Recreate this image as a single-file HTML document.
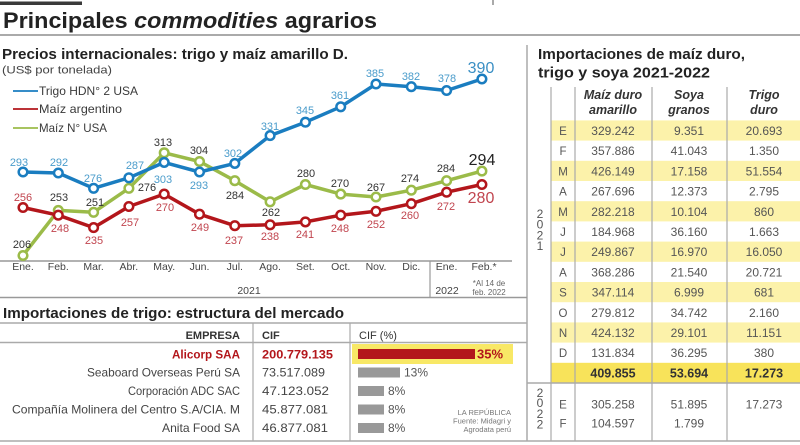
<!DOCTYPE html>
<html><head><meta charset="utf-8"><style>
html,body{margin:0;padding:0;background:#fff;}
svg{display:block;}
</style></head><body>
<svg width="800" height="445" viewBox="0 0 800 445" xmlns="http://www.w3.org/2000/svg" font-family="'Liberation Sans', Arial, sans-serif">
<rect width="800" height="445" fill="#fff"/>
<!-- top decorations -->
<rect x="0" y="1.5" width="82" height="3.5" fill="#3a3a3a"/>
<line x1="493" y1="0" x2="493" y2="5" stroke="#555" stroke-width="1"/>
<text x="3" y="28" font-size="22" font-weight="bold" fill="#222" textLength="374" lengthAdjust="spacingAndGlyphs">Principales <tspan font-style="italic">commodities</tspan> agrarios</text>
<line x1="0" y1="35" x2="800" y2="35" stroke="#aaa" stroke-width="2"/>
<line x1="527" y1="45" x2="527" y2="441" stroke="#aaa" stroke-width="1.5"/>

<!-- chart section -->
<text x="2" y="59" font-size="15" font-weight="bold" fill="#222" textLength="346" lengthAdjust="spacingAndGlyphs">Precios internacionales: trigo y maíz amarillo D.</text>
<text x="2" y="73.5" font-size="11" fill="#444" textLength="110" lengthAdjust="spacingAndGlyphs">(US$ por tonelada)</text>
<line x1="13" y1="91" x2="38" y2="91" stroke="#1a7dc0" stroke-width="1.8"/>
<line x1="13" y1="109" x2="38" y2="109" stroke="#b3161b" stroke-width="1.8"/>
<line x1="13" y1="128" x2="38" y2="128" stroke="#9bbb49" stroke-width="1.8"/>
<text x="39" y="95" font-size="12" fill="#3a3a3a" textLength="99" lengthAdjust="spacingAndGlyphs">Trigo HDN° 2 USA</text>
<text x="39" y="113" font-size="12" fill="#3a3a3a" textLength="83" lengthAdjust="spacingAndGlyphs">Maíz argentino</text>
<text x="39" y="132" font-size="12" fill="#3a3a3a" textLength="68" lengthAdjust="spacingAndGlyphs">Maíz N° USA</text>

<!-- axis -->
<line x1="0" y1="261" x2="512" y2="261" stroke="#999" stroke-width="1.5"/>
<line x1="0" y1="297.5" x2="527" y2="297.5" stroke="#999" stroke-width="1.5"/>
<line x1="430" y1="261" x2="430" y2="297.5" stroke="#999" stroke-width="1.2"/>
<g font-size="10.5" fill="#444" text-anchor="middle">
<text x="23" y="270">Ene.</text><text x="58.3" y="270">Feb.</text><text x="93.6" y="270">Mar.</text><text x="128.9" y="270">Abr.</text><text x="164.2" y="270">May.</text><text x="199.5" y="270">Jun.</text><text x="234.8" y="270">Jul.</text><text x="270.1" y="270">Ago.</text><text x="305.4" y="270">Set.</text><text x="340.7" y="270">Oct.</text><text x="376" y="270">Nov.</text><text x="411.3" y="270">Dic.</text><text x="446.6" y="270">Ene.</text><text x="484" y="270">Feb.*</text>
<text x="249" y="294">2021</text><text x="447" y="294">2022</text>
</g>
<g font-size="8" fill="#666" text-anchor="middle">
<text x="489" y="286">*Al 14 de</text><text x="489" y="295">feb. 2022</text>
</g>

<!-- series lines -->
<g fill="none" stroke-width="3.5" stroke-linejoin="round" stroke-linecap="round">
<polyline stroke="#9bbb49" points="23,255.5 58.3,210.4 93.6,212.3 128.9,188.3 164.2,152.8 199.5,161.5 234.8,180.7 270.1,201.8 305.4,184.5 340.7,194.1 376,197 411.3,190.2 446.6,180.7 481.9,171.1"/>
<polyline stroke="#b3161b" points="23,207.5 58.3,215.2 93.6,227.6 128.9,206.5 164.2,194.1 199.5,214.2 234.8,225.7 270.1,224.8 305.4,221.9 340.7,215.2 376,211.3 411.3,203.7 446.6,192.2 481.9,184.5"/>
<polyline stroke="#1a7dc0" points="23,172 58.3,173 93.6,188.3 128.9,177.8 164.2,162.4 199.5,172 234.8,163.4 270.1,135.6 305.4,122.2 340.7,106.8 376,84 411.3,86.7 446.6,90.5 481.9,79"/>
</g>
<g fill="#fff" stroke-width="2.5">
<g stroke="#9bbb49">
<circle cx="23" cy="255.5" r="4.3"/><circle cx="58.3" cy="210.4" r="4.3"/><circle cx="93.6" cy="212.3" r="4.3"/><circle cx="128.9" cy="188.3" r="4.3"/><circle cx="164.2" cy="152.8" r="4.3"/><circle cx="199.5" cy="161.5" r="4.3"/><circle cx="234.8" cy="180.7" r="4.3"/><circle cx="270.1" cy="201.8" r="4.3"/><circle cx="305.4" cy="184.5" r="4.3"/><circle cx="340.7" cy="194.1" r="4.3"/><circle cx="376" cy="197" r="4.3"/><circle cx="411.3" cy="190.2" r="4.3"/><circle cx="446.6" cy="180.7" r="4.3"/><circle cx="481.9" cy="171.1" r="4.3"/>
</g>
<g stroke="#b3161b">
<circle cx="23" cy="207.5" r="4.3"/><circle cx="58.3" cy="215.2" r="4.3"/><circle cx="93.6" cy="227.6" r="4.3"/><circle cx="128.9" cy="206.5" r="4.3"/><circle cx="164.2" cy="194.1" r="4.3"/><circle cx="199.5" cy="214.2" r="4.3"/><circle cx="234.8" cy="225.7" r="4.3"/><circle cx="270.1" cy="224.8" r="4.3"/><circle cx="305.4" cy="221.9" r="4.3"/><circle cx="340.7" cy="215.2" r="4.3"/><circle cx="376" cy="211.3" r="4.3"/><circle cx="411.3" cy="203.7" r="4.3"/><circle cx="446.6" cy="192.2" r="4.3"/><circle cx="481.9" cy="184.5" r="4.3"/>
</g>
<g stroke="#1a7dc0">
<circle cx="23" cy="172" r="4.3"/><circle cx="58.3" cy="173" r="4.3"/><circle cx="93.6" cy="188.3" r="4.3"/><circle cx="128.9" cy="177.8" r="4.3"/><circle cx="164.2" cy="162.4" r="4.3"/><circle cx="199.5" cy="172" r="4.3"/><circle cx="234.8" cy="163.4" r="4.3"/><circle cx="270.1" cy="135.6" r="4.3"/><circle cx="305.4" cy="122.2" r="4.3"/><circle cx="340.7" cy="106.8" r="4.3"/><circle cx="376" cy="84" r="4.3"/><circle cx="411.3" cy="86.7" r="4.3"/><circle cx="446.6" cy="90.5" r="4.3"/><circle cx="481.9" cy="79" r="4.3"/>
</g>
</g>

<!-- labels -->
<g font-size="11" text-anchor="middle" fill="#4a9ccb">
<text x="19" y="166">293</text><text x="59" y="166">292</text><text x="93" y="182">276</text><text x="135" y="169">287</text><text x="163" y="183">303</text><text x="199" y="189">293</text><text x="233" y="157">302</text><text x="270" y="130">331</text><text x="305" y="114">345</text><text x="340" y="99">361</text><text x="375" y="77">385</text><text x="411" y="80">382</text><text x="447" y="82">378</text>
<text x="481" y="73" font-size="16" fill="#3a8fc4">390</text>
</g>
<g font-size="11" text-anchor="middle" fill="#c1454f">
<text x="23" y="201">256</text><text x="60" y="232">248</text><text x="94" y="244">235</text><text x="130" y="226">257</text><text x="165" y="211">270</text><text x="200" y="231">249</text><text x="234" y="244">237</text><text x="270" y="240">238</text><text x="305" y="238">241</text><text x="340" y="232">248</text><text x="376" y="228">252</text><text x="410" y="219">260</text><text x="446" y="210">272</text>
<text x="481" y="203" font-size="16">280</text>
</g>
<g font-size="11" text-anchor="middle" fill="#333">
<text x="22" y="248">206</text><text x="59" y="201">253</text><text x="95" y="206">251</text><text x="147" y="191">276</text><text x="163" y="146">313</text><text x="199" y="154">304</text><text x="235" y="199">284</text><text x="271" y="216">262</text><text x="306" y="177">280</text><text x="340" y="187">270</text><text x="376" y="191">267</text><text x="410" y="182">274</text><text x="446" y="172">284</text>
<text x="482" y="165" font-size="16" fill="#222">294</text>
</g>

<!-- bottom table -->
<text x="3" y="318" font-size="15" font-weight="bold" fill="#222" textLength="341" lengthAdjust="spacingAndGlyphs">Importaciones de trigo: estructura del mercado</text>
<line x1="0" y1="323" x2="527" y2="323" stroke="#aaa" stroke-width="1.5"/>
<line x1="0" y1="342.5" x2="527" y2="342.5" stroke="#aaa" stroke-width="1.5"/>
<line x1="253" y1="323" x2="253" y2="441" stroke="#aaa" stroke-width="1.2"/>
<line x1="350" y1="323" x2="350" y2="441" stroke="#aaa" stroke-width="1.2"/>
<text x="240" y="339" font-size="11" font-weight="bold" fill="#333" text-anchor="end">EMPRESA</text>
<text x="262" y="339" font-size="11" font-weight="bold" fill="#333">CIF</text>
<text x="359" y="339" font-size="11" fill="#333">CIF (%)</text>
<rect x="352" y="344" width="161" height="20" fill="#f8e866"/>
<rect x="358" y="349" width="117" height="10" fill="#b3161b"/>
<text x="477" y="358.5" font-size="13" font-weight="bold" fill="#b3161b">35%</text>
<rect x="358" y="367.5" width="42" height="10" fill="#999"/>
<rect x="358" y="386" width="26" height="10" fill="#999"/>
<rect x="358" y="404.5" width="26" height="10" fill="#999"/>
<rect x="358" y="423" width="26" height="10" fill="#999"/>
<g font-size="12" fill="#555">
<text x="404" y="376.5">13%</text><text x="388" y="395">8%</text><text x="388" y="413.5">8%</text><text x="388" y="432">8%</text>
</g>
<text x="240" y="358.5" font-size="12" font-weight="bold" fill="#b3161b" text-anchor="end" textLength="68" lengthAdjust="spacingAndGlyphs">Alicorp SAA</text>
<text x="262" y="358.5" font-size="12" font-weight="bold" fill="#b3161b" textLength="71" lengthAdjust="spacingAndGlyphs">200.779.135</text>
<g font-size="12" fill="#444">
<text x="240" y="376.5" text-anchor="end" textLength="153" lengthAdjust="spacingAndGlyphs">Seaboard Overseas Perú SA</text>
<text x="240" y="395" text-anchor="end" textLength="112" lengthAdjust="spacingAndGlyphs">Corporación ADC SAC</text>
<text x="240" y="413.5" text-anchor="end" textLength="228" lengthAdjust="spacingAndGlyphs">Compañía Molinera del Centro S.A/CIA. M</text>
<text x="240" y="432" text-anchor="end" textLength="78" lengthAdjust="spacingAndGlyphs">Anita Food SA</text>
<text x="262" y="376.5" textLength="63" lengthAdjust="spacingAndGlyphs">73.517.089</text>
<text x="262" y="395" textLength="67" lengthAdjust="spacingAndGlyphs">47.123.052</text>
<text x="262" y="413.5" textLength="66" lengthAdjust="spacingAndGlyphs">45.877.081</text>
<text x="262" y="432" textLength="66" lengthAdjust="spacingAndGlyphs">46.877.081</text>
</g>
<g font-size="7.5" fill="#777" text-anchor="end">
<text x="511" y="415">LA REPÚBLICA</text><text x="511" y="423.5">Fuente: Midagri y</text><text x="511" y="432">Agrodata perú</text>
</g>
<line x1="0" y1="441" x2="800" y2="441" stroke="#aaa" stroke-width="1.5"/>

<!-- right table -->
<text x="538" y="59" font-size="15" font-weight="bold" fill="#222" textLength="207" lengthAdjust="spacingAndGlyphs">Importaciones de maíz duro,</text>
<text x="538" y="77.5" font-size="15" font-weight="bold" fill="#222" textLength="172" lengthAdjust="spacingAndGlyphs">trigo y soya 2021-2022</text>
<g>
<rect x="551" y="120.4" width="249" height="20.2" fill="#fcf2aa"/>
<rect x="551" y="160.8" width="249" height="20.2" fill="#fcf2aa"/>
<rect x="551" y="201.2" width="249" height="20.2" fill="#fcf2aa"/>
<rect x="551" y="241.6" width="249" height="20.2" fill="#fcf2aa"/>
<rect x="551" y="282" width="249" height="20.2" fill="#fcf2aa"/>
<rect x="551" y="322.4" width="249" height="20.2" fill="#fcf2aa"/>
<rect x="551" y="362.8" width="249" height="20.2" fill="#f8e35a"/>
</g>
<line x1="527" y1="383" x2="800" y2="383" stroke="#aaa" stroke-width="1.5"/>
<g stroke="#aaa" stroke-width="1.2">
<line x1="551" y1="87" x2="551" y2="441"/><line x1="575" y1="87" x2="575" y2="441"/><line x1="652" y1="87" x2="652" y2="441"/><line x1="727" y1="87" x2="727" y2="441"/>
</g>
<g font-size="12.5" font-weight="bold" font-style="italic" fill="#333" text-anchor="middle">
<text x="613" y="99">Maíz duro</text><text x="613" y="114">amarillo</text>
<text x="689" y="99">Soya</text><text x="689" y="114">granos</text>
<text x="764" y="99">Trigo</text><text x="764" y="114">duro</text>
</g>
<g font-size="12" fill="#555" text-anchor="middle">
<text x="540" y="218">2</text><text x="540" y="228.5">0</text><text x="540" y="239.5">2</text><text x="540" y="250">1</text>
<text x="540" y="397">2</text><text x="540" y="407">0</text><text x="540" y="418">2</text><text x="540" y="428.5">2</text>
</g>
<g font-size="11.5" fill="#555" text-anchor="middle">
<text x="563" y="135">E</text><text x="563" y="155.2">F</text><text x="563" y="175.4">M</text><text x="563" y="195.6">A</text><text x="563" y="215.8">M</text><text x="563" y="236">J</text><text x="563" y="256.2">J</text><text x="563" y="276.4">A</text><text x="563" y="296.6">S</text><text x="563" y="316.8">O</text><text x="563" y="337">N</text><text x="563" y="357.2">D</text>
<text x="563" y="408.5">E</text><text x="563" y="427.5">F</text>
</g>
<g font-size="12" fill="#555" text-anchor="middle">
<text x="613" y="135">329.242</text><text x="689" y="135">9.351</text><text x="764" y="135">20.693</text>
<text x="613" y="155.2">357.886</text><text x="689" y="155.2">41.043</text><text x="764" y="155.2">1.350</text>
<text x="613" y="175.4">426.149</text><text x="689" y="175.4">17.158</text><text x="764" y="175.4">51.554</text>
<text x="613" y="195.6">267.696</text><text x="689" y="195.6">12.373</text><text x="764" y="195.6">2.795</text>
<text x="613" y="215.8">282.218</text><text x="689" y="215.8">10.104</text><text x="764" y="215.8">860</text>
<text x="613" y="236">184.968</text><text x="689" y="236">36.160</text><text x="764" y="236">1.663</text>
<text x="613" y="256.2">249.867</text><text x="689" y="256.2">16.970</text><text x="764" y="256.2">16.050</text>
<text x="613" y="276.4">368.286</text><text x="689" y="276.4">21.540</text><text x="764" y="276.4">20.721</text>
<text x="613" y="296.6">347.114</text><text x="689" y="296.6">6.999</text><text x="764" y="296.6">681</text>
<text x="613" y="316.8">279.812</text><text x="689" y="316.8">34.742</text><text x="764" y="316.8">2.160</text>
<text x="613" y="337">424.132</text><text x="689" y="337">29.101</text><text x="764" y="337">11.151</text>
<text x="613" y="357.2">131.834</text><text x="689" y="357.2">36.295</text><text x="764" y="357.2">380</text>
<text x="613" y="408.5">305.258</text><text x="689" y="408.5">51.895</text><text x="764" y="408.5">17.273</text>
<text x="613" y="427.5">104.597</text><text x="689" y="427.5">1.799</text>
</g>
<g font-size="12.5" font-weight="bold" fill="#333" text-anchor="middle">
<text x="613" y="377.5">409.855</text><text x="689" y="377.5">53.694</text><text x="764" y="377.5">17.273</text>
</g>
</svg>
</body></html>
